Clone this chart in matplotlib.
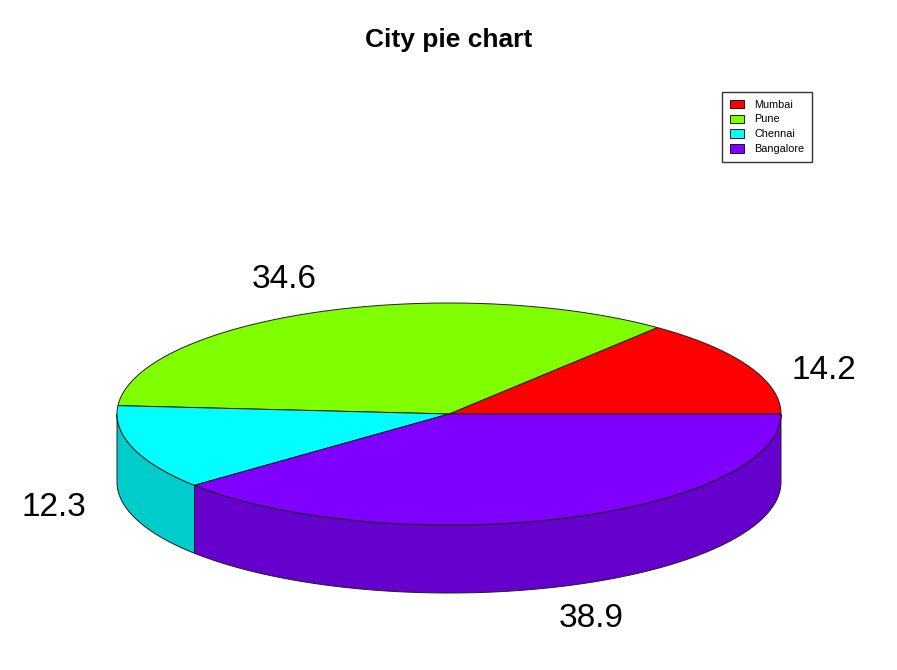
import numpy as np
import matplotlib.pyplot as plt
from matplotlib.patches import Polygon, Patch

# data
cities = ['Mumbai', 'Pune', 'Chennai', 'Bangalore']
values = [14.2, 34.6, 12.3, 38.9]
colors = ['#FF0000', '#80FF00', '#00FFFF', '#8000FF']

# pie geometry (pixel space)
cx, cy = 449, 414
rx, ry = 332, 111
h = 68


def darker(c, f=0.8):
    r, g, b = [int(c[i:i + 2], 16) for i in (1, 3, 5)]
    return (r * f / 255, g * f / 255, b * f / 255)


def arc(a0, a1, n=200):
    t = np.linspace(a0, a1, n)
    return cx + rx * np.cos(t), cy - ry * np.sin(t)


fig = plt.figure(figsize=(8.97, 6.7), dpi=100)
ax = fig.add_axes([0, 0, 1, 1])
ax.set_xlim(0, 897)
ax.set_ylim(670, 0)
ax.axis('off')

fr = np.cumsum([0] + values) / sum(values) * 2 * np.pi
starts, ends = fr[:-1], fr[1:]

# sides (only front half visible)
for a0, a1, c in zip(starts, ends, colors):
    s, e = max(a0, np.pi), min(a1, 2 * np.pi)
    if e <= s:
        continue
    x, y = arc(s, e)
    pts = np.column_stack([np.r_[x, x[::-1]], np.r_[y, (y + h)[::-1]]])
    ax.add_patch(Polygon(pts, closed=True, facecolor=darker(c),
                         edgecolor='#202020', lw=0.7))

# tops
for a0, a1, c in zip(starts, ends, colors):
    x, y = arc(a0, a1)
    pts = np.column_stack([np.r_[cx, x], np.r_[cy, y]])
    ax.add_patch(Polygon(pts, closed=True, facecolor=c,
                         edgecolor='#202020', lw=0.7))

# labels
for a0, a1, v in zip(starts, ends, values):
    m = (a0 + a1) / 2
    lx = cx + 1.25 * rx * np.cos(m)
    ly = cy - 1.25 * ry * np.sin(m) + (h if np.sin(m) < 0 else 0) + 18 * np.cos(m)
    ax.text(lx, ly, f'{v}', fontsize=24, ha='center', va='center',
            family='Liberation Sans')

fig.text(0.5, 1 - 40 / 670, 'City pie chart', ha='center', va='center',
         fontsize=19, fontweight='bold', family='Liberation Sans')

handles = [Patch(facecolor=c, edgecolor='black', lw=0.6) for c in colors]
fig.legend(handles, cities, loc='upper left', bbox_to_anchor=(722 / 897, 1 - 92 / 670),
           borderaxespad=0, frameon=True, fancybox=False,
           edgecolor='black', handlelength=1.3, handleheight=0.8,
           labelspacing=0.45, borderpad=0.7, handletextpad=1.0,
           prop={'family': 'Liberation Sans', 'size': 7.8})

fig.savefig('out.png', dpi=100, facecolor='white')
